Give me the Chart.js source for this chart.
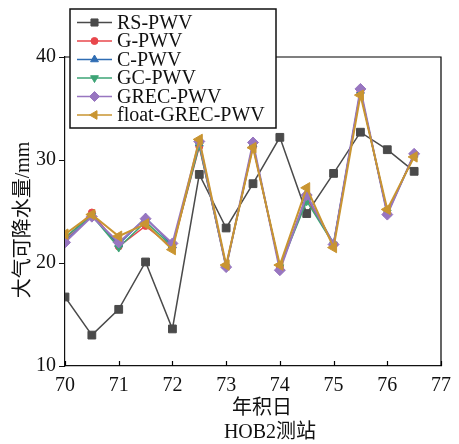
<!DOCTYPE html>
<html>
<head>
<meta charset="utf-8">
<script src="https://cdn.jsdelivr.net/npm/chart.js@4/dist/chart.umd.min.js"></script>
<style>
  html, body { margin: 0; padding: 0; background: #fff; }
  #wrap { width: 459px; height: 444px; }
</style>
</head>
<body>
<div id="wrap"><canvas id="c" width="459" height="444"></canvas></div>
<script>
// Day of year (half-day steps)
const days = [70, 70.5, 71, 71.5, 72, 72.5, 73, 73.5, 74, 74.5, 75, 75.5, 76, 76.5];

// Precipitable water vapour, mm
const rsPWV      = [16.7, 13.0, 15.5, 20.1, 13.6, 28.6, 23.4, 27.7, 32.2, 24.8, 28.7, 32.7, 31.0, 28.9];
const gPWV       = [22.3, 24.9, 21.6, 23.6, 21.5, 31.3, 19.7, 31.3, 19.6, 26.3, 21.8, 36.6, 24.9, 30.5];
const cPWV       = [22.1, 24.6, 21.8, 24.4, 21.7, 31.6, 19.7, 31.5, 19.5, 26.5, 21.9, 36.7, 24.8, 30.5];
const gcPWV      = [22.5, 24.6, 21.5, 24.0, 21.6, 31.4, 19.6, 31.4, 19.6, 26.0, 21.8, 36.6, 24.9, 30.5];
const grecPWV    = [22.0, 24.5, 22.0, 24.3, 21.9, 31.8, 19.6, 31.7, 19.3, 26.6, 21.8, 36.9, 24.7, 30.6];
const floatPWV   = [22.8, 24.7, 22.6, 23.8, 21.3, 32.0, 19.8, 31.2, 19.8, 27.3, 21.5, 36.3, 25.2, 30.3];

// Axis ticks
const xTicks = [70, 71, 72, 73, 74, 75, 76, 77];
const yTicks = [10, 20, 30, 40];

const seriesNames = ['RS-PWV', 'G-PWV', 'C-PWV', 'GC-PWV', 'GREC-PWV', 'float-GREC-PWV'];
const seriesValues = [rsPWV, gPWV, cPWV, gcPWV, grecPWV, floatPWV];

const styles = [
  { color: '#4a4a4a', pointStyle: 'rect',     radius: 5.5, rotation: 0,   width: 1.5 },
  { color: '#e8474c', pointStyle: 'circle',   radius: 3.5, rotation: 0,   width: 1.5 },
  { color: '#2f6db3', pointStyle: 'triangle', radius: 4.5, rotation: 0,   width: 1.5 },
  { color: '#3da476', pointStyle: 'triangle', radius: 4.5, rotation: 180, width: 1.5 },
  { color: '#9876c0', pointStyle: 'rectRot',  radius: 5.5, rotation: 0,   width: 2 },
  { color: '#c99531', pointStyle: 'triangle', radius: 6,   rotation: -90, width: 2 }
];

const SERIF = '"Liberation Serif", "Times New Roman", "Noto Sans CJK SC", serif';

// later series are painted over earlier ones
const datasets = seriesNames.map((name, i) => ({
  label: name,
  order: seriesNames.length - 1 - i,
  data: days.map((d, k) => ({ x: d, y: seriesValues[i][k] })),
  borderColor: styles[i].color,
  backgroundColor: styles[i].color,
  pointBackgroundColor: styles[i].color,
  pointBorderColor: styles[i].color,
  pointStyle: styles[i].pointStyle,
  pointRadius: styles[i].radius,
  pointRotation: styles[i].rotation,
  pointBorderWidth: 1,
  borderWidth: styles[i].width,
  tension: 0,
  fill: false
}));

function drawMarker(ctx, st, x, y) {
  ctx.save();
  ctx.fillStyle = st.color;
  ctx.strokeStyle = st.color;
  ctx.lineWidth = 1;
  if (Chart.helpers && Chart.helpers.drawPoint) {
    Chart.helpers.drawPoint(ctx, { pointStyle: st.pointStyle, radius: st.radius, rotation: st.rotation, borderWidth: 1 }, x, y);
  } else {
    ctx.beginPath();
    ctx.arc(x, y, st.radius, 0, Math.PI * 2);
    ctx.fill();
  }
  ctx.restore();
}

// Frame, inward x ticks, axis titles and the boxed legend
const decor = {
  id: 'decor',
  afterDatasetsDraw(chart) {
    const ctx = chart.ctx;
    const a = chart.chartArea;
    const xs = chart.scales.x;
    ctx.save();
    ctx.strokeStyle = '#000';
    ctx.lineWidth = 1.2;
    ctx.beginPath();
    ctx.moveTo(a.left, a.top);
    ctx.lineTo(a.right, a.top);
    ctx.lineTo(a.right, a.bottom);
    ctx.stroke();
    // x ticks point into the plot
    ctx.beginPath();
    xTicks.forEach(v => {
      const px = Math.round(xs.getPixelForValue(v)) + 0.5;
      ctx.moveTo(px, a.bottom);
      ctx.lineTo(px, a.bottom - 5);
    });
    ctx.stroke();

    // axis titles
    ctx.fillStyle = '#111';
    ctx.font = '20px ' + SERIF;
    ctx.textAlign = 'center';
    ctx.textBaseline = 'middle';
    ctx.fillText('年积日', 262, 409);
    ctx.fillText('HOB2测站', 270, 433);
    ctx.save();
    ctx.translate(24, 220);
    ctx.rotate(-Math.PI / 2);
    ctx.fillText('大气可降水量/mm', 0, 0);
    ctx.restore();

    // legend
    const bx = 70, by = 9, bw = 206, bh = 119;
    ctx.fillStyle = '#fff';
    ctx.fillRect(bx, by, bw, bh);
    ctx.lineWidth = 1.5;
    ctx.strokeStyle = '#111';
    ctx.strokeRect(bx, by, bw, bh);
    ctx.font = '20px ' + SERIF;
    ctx.textAlign = 'left';
    ctx.textBaseline = 'middle';
    seriesNames.forEach((name, i) => {
      const y = 22.5 + i * 18.5;
      const st = styles[i];
      ctx.strokeStyle = st.color;
      ctx.lineWidth = 1.5;
      ctx.beginPath();
      ctx.moveTo(77, y);
      ctx.lineTo(112, y);
      ctx.stroke();
      drawMarker(ctx, Object.assign({}, st, { radius: Math.min(st.radius, 5) }), 94.5, y);
      ctx.fillStyle = '#111';
      ctx.fillText(name, 117, y + 1);
    });
    ctx.restore();
  }
};

new Chart(document.getElementById('c'), {
  type: 'line',
  data: { datasets },
  plugins: [decor],
  options: {
    responsive: false,
    animation: false,
    devicePixelRatio: 1,
    layout: { padding: { top: 57, right: 9, left: 0, bottom: 0 } },
    plugins: {
      legend: { display: false },
      tooltip: { enabled: false }
    },
    scales: {
      x: {
        type: 'linear',
        min: 70,
        max: 77,
        afterFit(s) { s.height = 78; },
        afterBuildTicks(s) { s.ticks = xTicks.map(v => ({ value: v })); },
        grid: { display: true, drawOnChartArea: false, drawTicks: false },
        border: { display: true, color: '#111', width: 1.2 },
        ticks: {
          color: '#111',
          padding: 8,
          maxRotation: 0,
          font: { family: SERIF, size: 20 },
          callback: v => String(v)
        }
      },
      y: {
        min: 10,
        max: 40,
        afterFit(s) { s.width = 65; },
        afterBuildTicks(s) { s.ticks = yTicks.map(v => ({ value: v })); },
        grid: { display: true, drawOnChartArea: false, drawTicks: true, tickLength: 6, color: '#111' },
        border: { display: true, color: '#111', width: 1.2 },
        ticks: {
          color: '#111',
          padding: 3,
          font: { family: SERIF, size: 20 },
          callback: v => String(v)
        }
      }
    }
  }
});
</script>
</body>
</html>
